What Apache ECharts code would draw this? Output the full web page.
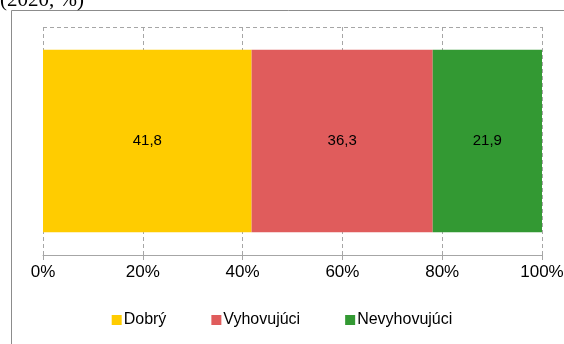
<!DOCTYPE html>
<html><head><meta charset="utf-8">
<script src="https://cdn.jsdelivr.net/npm/echarts@6/dist/echarts.min.js"></script>
<style>html,body{margin:0;padding:0;background:#fff}#c{width:564px;height:344px}</style>
</head><body><div id="c"></div>
<script>
const categories = ['2020'];
const seriesNames = ['Dobrý', 'Vyhovujúci', 'Nevyhovujúci'];
const dobry = [41.8];
const vyhovujuci = [36.3];
const nevyhovujuci = [21.9];
const colors = ['#FFCC00', '#E05C5C', '#339933'];
const valuesList = [dobry, vyhovujuci, nevyhovujuci];

const chart = echarts.init(document.getElementById('c'));
chart.setOption({
  animation: false,
  graphic: [
    {type:'rect', shape:{x:11.5, y:10.5, width:600, height:400}, style:{fill:'none', stroke:'#8c8c8c', lineWidth:1}},
    {type:'text', left:0, top:-10, style:{text:'(2020, %)', font:'21px "Liberation Serif", "Times New Roman", serif', fill:'#000'}}
  ],
  grid: {left:43, right:22, top:27, bottom:89, outerBoundsMode:'none', containLabel:false},
  xAxis: {
    type:'value', min:0, max:100, interval:20,
    axisLabel:{formatter:'{value}%', color:'#000', fontSize:17, fontFamily:'Arial, "Liberation Sans", sans-serif', margin:9},
    axisLine:{show:true, lineStyle:{color:'#a6a6a6'}},
    axisTick:{show:true, length:5, lineStyle:{color:'#a6a6a6'}},
    splitLine:{show:true, lineStyle:{color:'#a6a6a6', type:[4,3]}}
  },
  yAxis: {
    type:'category', data:categories, inverse:true,
    axisLabel:{show:false}, axisTick:{show:false}, axisLine:{show:false},
    splitLine:{show:true, lineStyle:{color:'#a6a6a6', type:[4,3]}}
  },
  legend: {
    bottom:11, left:'center', itemWidth:10, itemHeight:10, itemGap:45, icon:'rect',
    textStyle:{fontSize:16, color:'#000', fontFamily:'Arial, "Liberation Sans", sans-serif', padding:[0,0,0,-3]},
    data: seriesNames
  },
  series: seriesNames.map((n,i)=>({
    name:n, type:'bar', stack:'a', data:valuesList[i], barWidth:'80%',
    itemStyle:{color:colors[i]},
    label:{show:true, position:'inside', color:'#000', fontSize:15, fontFamily:'Arial, "Liberation Sans", sans-serif',
      formatter:(p)=>p.value.toFixed(1).replace('.', ',')}
  }))
});
</script></body></html>
